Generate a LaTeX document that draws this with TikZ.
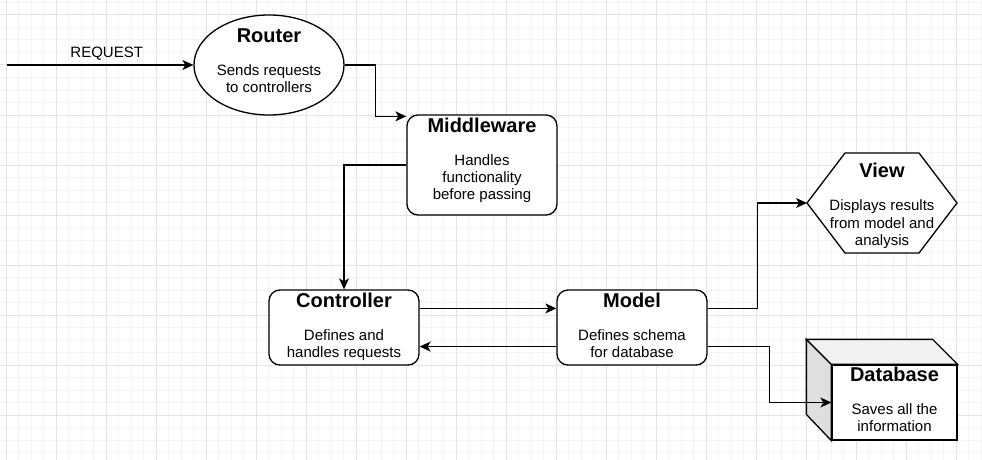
\documentclass[tikz,border=0pt]{standalone}
\usepackage{fontspec}
\setmainfont{Liberation Sans}
\usetikzlibrary{shapes.geometric}
\usetikzlibrary{positioning}
\usetikzlibrary{calc}
\usetikzlibrary{arrows.meta}
\usepackage{xcolor}
\definecolor{gridmajor}{HTML}{E3E3E3}
\definecolor{gridminor}{HTML}{F4F4F4}
\newcommand{\nodetitle}[1]{{\bfseries\fontsize{20}{24}\selectfont #1}}

\begin{document}
\begin{tikzpicture}[x=1pt,y=-1pt,
    outline/.style={draw=black,line width=1.3pt,fill=white},
    roundbox/.style={outline,rounded corners=11pt,minimum width=150pt,inner sep=0pt},
    txt/.style={inner sep=0pt,align=center,font=\fontsize{15}{17.4}\selectfont},
    arr/.style={line width=1.3pt,-{Stealth[length=11pt,width=10pt,inset=3pt]}}]
          \useasboundingbox[fill=white] (0,0) rectangle (982,460);
          \foreach \gx in {6,18.5,...,982} \draw[gridminor,line width=1pt] (\gx,0) -- (\gx,460);
          \foreach \gy in {2.5,15,...,460} \draw[gridminor,line width=1pt] (0,\gy) -- (982,\gy);
          \foreach \gx in {6,56,...,956} \draw[gridmajor,line width=1pt] (\gx,0) -- (\gx,460);
          \foreach \gy in {15,65,...,415} \draw[gridmajor,line width=1pt] (0,\gy) -- (982,\gy);

          \node[outline,ellipse,minimum width=150pt,minimum height=100pt,inner sep=0pt] (router) at (269,65) {};
          \node[txt,below=14pt of router.north] (routertxt) {\nodetitle{Router}\\[15.6pt]Sends requests\\to controllers};

          \node[roundbox,minimum height=100pt] (mid) at (482,165) {};
          \node[txt,below=3pt of mid.north] (midtxt) {\nodetitle{Middleware}\\[15.6pt]Handles\\functionality\\before passing};

          \node[roundbox,minimum height=75pt] (ctrl) at (344,327.5) {};
          \node[txt,below=3pt of ctrl.north] (ctrltxt) {\nodetitle{Controller}\\[15.6pt]Defines and\\handles requests};

          \node[roundbox,minimum height=75pt] (model) at (632,327.5) {};
          \node[txt,below=3pt of model.north] (modeltxt) {\nodetitle{Model}\\[15.6pt]Defines schema\\for database};

          \node[minimum width=150pt,minimum height=100pt,inner sep=0pt,outer sep=0pt] (view) at (882,203) {};
          \draw[outline] (view.west) -- ($(view.north west)+(38,0)$) -- ($(view.north east)+(-38,0)$) -- (view.east)
            -- ($(view.south east)+(-38,0)$) -- ($(view.south west)+(38,0)$) -- cycle;
          \node[txt,below=10pt of view.north] (viewtxt) {\nodetitle{View}\\[15.6pt]Displays results\\from model and\\analysis};

          \node[outline,minimum width=125pt,minimum height=75pt,inner sep=0pt] (db) at (894.5,402.5) {};
          \draw[outline,fill=gray!25] (db.north west) -- ++(-25,-25) -- ++(0,75) -- (db.south west) -- cycle;
          \draw[outline,fill=gray!10] (db.north west) -- ++(-25,-25) -- ($(db.north east)+(-25,-25)$) -- (db.north east) -- cycle;
          \node[txt,below=2pt of db.north] (dbtxt) {\nodetitle{Database}\\[15.6pt]Saves all the\\information};

          \coordinate (req) at (7,65);
          \draw[arr] (req) -- node[txt,midway,above,yshift=4pt,xshift=6.5pt] (reqlbl) {REQUEST} (router.west);
          \draw[arr] (router.east) -- ++(31,0) |- ($(mid.north west)+(0,2)$);
          \draw[arr] (mid.west) -| (ctrl.north);
          \draw[arr] ($(ctrl.north east)!0.25!(ctrl.south east)$) -- ($(model.north west)!0.25!(model.south west)$);
          \draw[arr] ($(model.north west)!0.75!(model.south west)$) -- ($(ctrl.north east)!0.75!(ctrl.south east)$);
          \draw[arr] ($(model.north east)!0.25!(model.south east)$) -- ++(50,0) |- (view.west);
          \draw[arr] ($(model.north east)!0.75!(model.south east)$) -- ++(62,0) |- (db.west);
        \end{tikzpicture}
\end{document}
